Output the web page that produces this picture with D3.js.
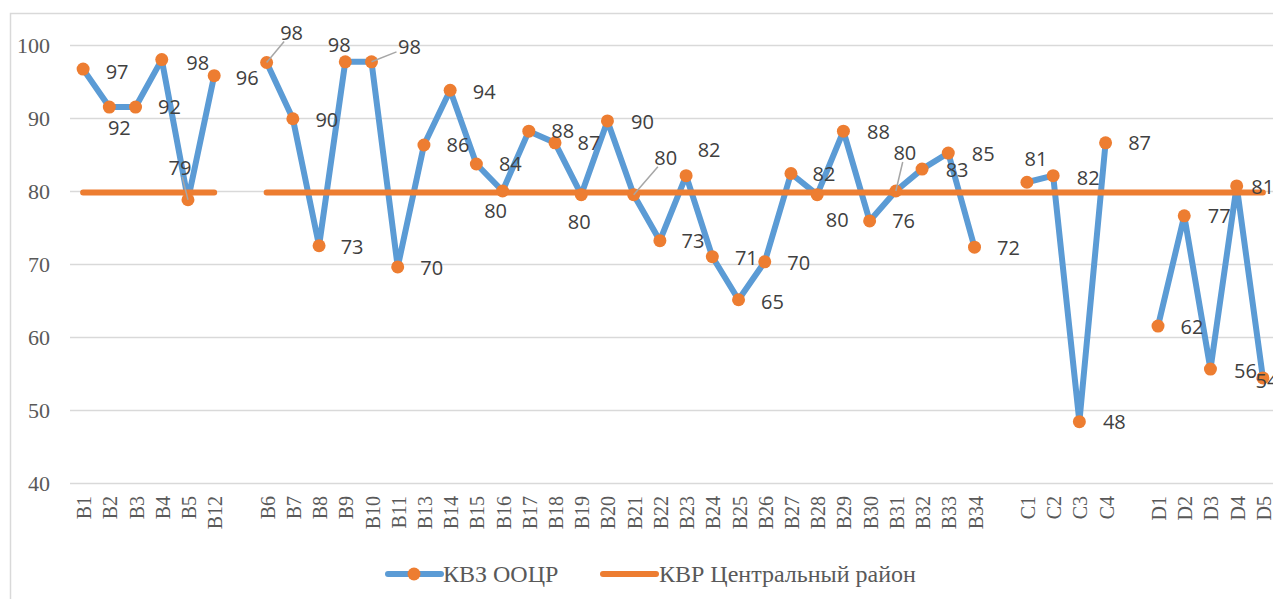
<!DOCTYPE html>
<html>
<head>
<meta charset="utf-8">
<script src="https://cdn.jsdelivr.net/npm/d3@7"></script>
<style>
  html, body { margin: 0; padding: 0; background: #fff; }
  svg { display: block; }
</style>
</head>
<body>
<div id="chart"></div>
<script>
// categories ('' = empty slot between groups)
const categories = ['B1', 'B2', 'B3', 'B4', 'B5', 'B12', '',
    'B6', 'B7', 'B8', 'B9', 'B10', 'B11', 'B13', 'B14', 'B15', 'B16', 'B17', 'B18', 'B19', 'B20',
    'B21', 'B22', 'B23', 'B24', 'B25', 'B26', 'B27', 'B28', 'B29', 'B30', 'B31', 'B32', 'B33', 'B34', '',
    'C1', 'C2', 'C3', 'C4', '',
    'D1', 'D2', 'D3', 'D4', 'D5'];

// КВЗ ООЦР
const kvzValues = [96.7, 91.5, 91.5, 98.0, 78.8, 95.8, null,
    97.6, 89.9, 72.5, 97.7, 97.7, 69.6, 86.3, 93.8, 83.7, 80.0, 88.2, 86.6, 79.5, 89.6,
    79.5, 73.2, 82.1, 71.0, 65.1, 70.3, 82.4, 79.5, 88.2, 75.9, 80.0, 83.0, 85.2, 72.3, null,
    81.2, 82.1, 48.4, 86.6, null,
    61.5, 76.6, 55.6, 80.7, 54.4];

// КВР Центральный район
const kvrValues = categories.map((c, i) => i === 6 ? null : 79.8);

const yTicks = [40, 50, 60, 70, 80, 90, 100];
const seriesNames = ['КВЗ ООЦР', 'КВР Центральный район'];

// label placement relative to the point [dx, dy]
const labelOffsets = [[34, 3], [10, 21], [34, 0], [36, 3], [-8, -32], [33, 2], null,
    [25, -30], [34, 1], [33, 1], [-6, -17], [38, -15], [34, 1], [34, 0], [34, 2], [34, 0], [-7, 20], [34, 0], [34, 0], [-2, 27], [35, 1],
    [32, -37], [33, 0], [23, -26], [34, 1], [34, 2], [34, 1], [33, 1], [20, 25], [35, 1], [34, 0], [9, -38], [35, 1], [35, 1], [34, 1], null,
    [9, -23], [35, 2], [35, 0], [34, 0], null,
    [34, 1], [35, 0], [35, 2], [26, 1], [4, 3]];
// points whose labels get a grey leader line
const leaders = [4, 7, 11, 21, 31];

const W = 1273, H = 599;
const blue = '#5b9bd5', orange = '#ed7d31', grid = '#d9d9d9', textGrey = '#595959';
const serif = '"Liberation Serif", "Times New Roman", serif';

const svg = d3.select('#chart').append('svg')
    .attr('width', W).attr('height', H);

// outer chart border
svg.append('rect')
    .attr('x', 10.5).attr('y', 13.5)
    .attr('width', W + 20).attr('height', H + 20)
    .attr('fill', 'none').attr('stroke', grid).attr('stroke-width', 1.5);

const x = d3.scaleBand()
    .domain(d3.range(categories.length))
    .range([70, 1276]);
const cx = i => x(i) + x.bandwidth() / 2;

const y = d3.scaleLinear().domain([40, 100]).range([483, 45]);

// gridlines
svg.append('g')
    .selectAll('line')
    .data(yTicks)
    .join('line')
    .attr('x1', 70).attr('x2', 1276)
    .attr('y1', d => Math.round(y(d)) + 0.5).attr('y2', d => Math.round(y(d)) + 0.5)
    .attr('stroke', grid).attr('stroke-width', 1.5);

// y axis labels
const yAxis = svg.append('g')
    .attr('transform', 'translate(52,0)')
    .call(d3.axisLeft(y).tickValues(yTicks).tickSize(0).tickPadding(2));
yAxis.select('.domain').remove();
yAxis.selectAll('text')
    .attr('font-family', serif)
    .attr('font-size', 22)
    .attr('fill', textGrey);

// x axis labels (rotated)
const xAxis = svg.append('g')
    .attr('transform', 'translate(0,496)')
    .call(d3.axisBottom(x).tickFormat(i => categories[i]).tickSize(0).tickPadding(0));
xAxis.select('.domain').remove();
xAxis.selectAll('text')
    .attr('font-family', serif)
    .attr('font-size', 20)
    .attr('fill', textGrey)
    .attr('text-anchor', 'end')
    .attr('transform', 'rotate(-90)')
    .attr('x', 0)
    .attr('y', 1)
    .attr('dy', '0.35em');

const line = d3.line()
    .defined(d => d.v !== null)
    .x(d => cx(d.i))
    .y(d => y(d.v));

const kvz = kvzValues.map((v, i) => ({ i, v }));
const kvr = kvrValues.map((v, i) => ({ i, v }));

svg.append('path')
    .datum(kvz)
    .attr('d', line)
    .attr('fill', 'none')
    .attr('stroke', blue)
    .attr('stroke-width', 6)
    .attr('stroke-linejoin', 'round')
    .attr('stroke-linecap', 'round');

svg.append('path')
    .datum(kvr)
    .attr('d', line)
    .attr('fill', 'none')
    .attr('stroke', orange)
    .attr('stroke-width', 6)
    .attr('stroke-linecap', 'round');

// markers
svg.append('g')
    .selectAll('circle')
    .data(kvz.filter(d => d.v !== null))
    .join('circle')
    .attr('cx', d => cx(d.i))
    .attr('cy', d => y(d.v))
    .attr('r', 6.5)
    .attr('fill', orange);

// data labels
const labelFont = '"Open Sans", "Noto Sans", sans-serif';
const labelData = kvz.filter(d => d.v !== null).map(d => ({
    ...d,
    lx: cx(d.i) + labelOffsets[d.i][0],
    ly: y(d.v) + labelOffsets[d.i][1]
}));

// leader line end: stop at the label box
function leaderEnd(d) {
    const px = cx(d.i), py = y(d.v);
    const dx = d.lx - px, dy = d.ly - py;
    const t = Math.min(Math.abs(13 / (dx || 0.001)), Math.abs(9 / (dy || 0.001)));
    return [d.lx - dx * t, d.ly - dy * t];
}

svg.append('g')
    .selectAll('line')
    .data(labelData.filter(d => leaders.includes(d.i)))
    .join('line')
    .attr('x1', d => cx(d.i))
    .attr('y1', d => y(d.v))
    .attr('x2', d => leaderEnd(d)[0])
    .attr('y2', d => leaderEnd(d)[1])
    .attr('stroke', '#a6a6a6')
    .attr('stroke-width', 1.5);

svg.append('g')
    .selectAll('text')
    .data(labelData)
    .join('text')
    .attr('x', d => d.lx)
    .attr('y', d => d.ly)
    .attr('dy', '0.35em')
    .attr('text-anchor', 'middle')
    .attr('font-family', labelFont)
    .attr('font-size', 20)
    .attr('fill', '#404040')
    .text(d => Math.round(d.v));

// legend
const legend = svg.append('g').attr('transform', 'translate(0,574)');
legend.append('line')
    .attr('x1', 388).attr('x2', 441).attr('y1', 0).attr('y2', 0)
    .attr('stroke', blue).attr('stroke-width', 6).attr('stroke-linecap', 'round');
legend.append('circle')
    .attr('cx', 414).attr('cy', 0).attr('r', 6.5).attr('fill', orange);
legend.append('text')
    .attr('x', 443).attr('y', 0).attr('dy', '0.35em')
    .attr('font-family', serif)
    .attr('font-size', 24)
    .attr('fill', textGrey)
    .text(seriesNames[0]);
legend.append('line')
    .attr('x1', 603).attr('x2', 656).attr('y1', 0).attr('y2', 0)
    .attr('stroke', orange).attr('stroke-width', 6).attr('stroke-linecap', 'round');
legend.append('text')
    .attr('x', 659).attr('y', 0).attr('dy', '0.35em')
    .attr('font-family', serif)
    .attr('font-size', 24)
    .attr('fill', textGrey)
    .text(seriesNames[1]);
</script>
</body>
</html>
